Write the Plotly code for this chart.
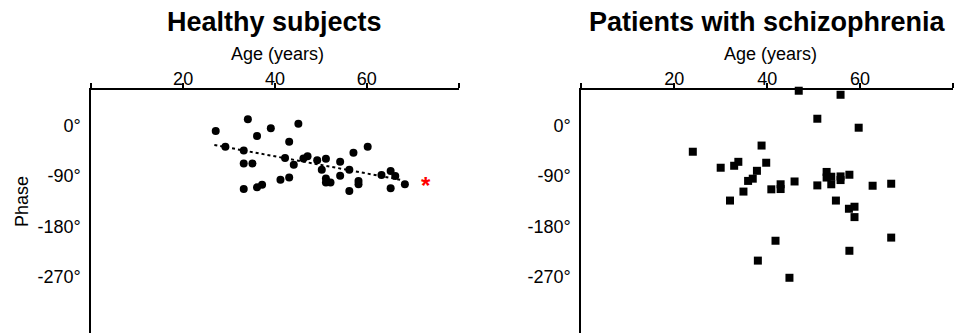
import plotly.graph_objects as go

# ---------------- data ----------------
healthy_age = [27.1, 34.1, 29.2, 36.1, 39.1, 45.1, 43.1, 33.2, 33.2, 35.1,
               42.2, 44.1, 46.2, 47.1, 49.2, 51.1, 50.2, 54.2, 57.1, 60.2,
               56.2, 54.2, 51.1, 51.1, 52.1, 58.2, 58.2, 56.2, 41.2, 43.1,
               33.2, 36.1, 37.2, 63.2, 65.2, 66.2, 65.2, 68.3]
healthy_phase = [-10, 11, -38, -19, -5, 3, -29, -45, -68, -68,
                 -58, -70, -59, -55, -62, -59.5, -79, -65, -49, -38,
                 -79, -90, -94.5, -102, -102, -99, -105, -117, -97, -93,
                 -113.5, -110.5, -106, -88.6, -81.5, -90.4, -112, -105]

trend_age = [26.8, 67.7]
trend_phase = [-35, -97.5]

sig_age = [72.8]
sig_phase = [-100]

patient_age = [46.8, 55.8, 50.8, 59.7, 38.8, 24.0, 30.0, 32.9, 33.8, 39.8,
               37.8, 36.9, 35.9, 34.9, 32.0, 40.9, 42.9, 42.9, 45.9, 50.8,
               52.8, 52.8, 53.8, 53.8, 55.8, 55.8, 57.7, 54.8, 57.6, 58.8,
               58.8, 62.7, 66.7, 66.7, 41.8, 57.7, 38.0, 44.8]
patient_phase = [61.7, 54.5, 11.8, -4.2, -36, -47, -75.5, -72, -65, -66.6,
                 -81, -95, -99, -118, -134, -114, -105, -113.5, -100, -107,
                 -83, -93, -91.5, -105, -97.5, -91, -88, -134, -148.6, -145,
                 -163.5, -107.6, -104, -200, -205.6, -223.5, -241, -271.6]

x_tickvals = [0, 20, 40, 60, 80]
x_ticktext = ["", "20", "40", "60", ""]
y_tickvals = [0, -90, -180, -270]
y_ticktext = ["0°", "-90°", "-180°", "-270°"]

titles = ["Healthy subjects", "Patients with schizophrenia"]
x_title = "Age (years)"
y_title = "Phase"

# ---------------- figure ----------------
FONT = "Arial, Liberation Sans, sans-serif"
W, H = 962, 333
T = 90

fig = go.Figure()

fig.add_trace(go.Scatter(
    x=trend_age, y=trend_phase, mode="lines",
    line=dict(color="black", width=2, dash="dot"),
    xaxis="x", yaxis="y", showlegend=False, hoverinfo="skip"))
fig.add_trace(go.Scatter(
    x=healthy_age, y=healthy_phase, mode="markers",
    marker=dict(symbol="circle", size=8, color="black"),
    xaxis="x", yaxis="y", showlegend=False, cliponaxis=False))
fig.add_trace(go.Scatter(
    x=patient_age, y=patient_phase, mode="markers",
    marker=dict(symbol="square", size=8, color="black"),
    xaxis="x2", yaxis="y2", showlegend=False, cliponaxis=False))

xdom1 = [91.3 / W, 458.6 / W]
xdom2 = [581.3 / W, 953.0 / W]

common_x = dict(range=[0, 80], side="top", showline=True, linecolor="black",
                linewidth=2, ticks="outside", ticklen=5, tickwidth=2,
                tickcolor="black", tickvals=x_tickvals, ticktext=x_ticktext,
                showgrid=False, zeroline=False, automargin=False,
                ticklabelstandoff=-9,
                tickfont=dict(family=FONT, size=18, color="black"))
common_y = dict(range=[-370, 63], showline=True, linecolor="black",
                linewidth=2, ticks="", tickvals=y_tickvals,
                ticktext=y_ticktext, showgrid=False, zeroline=False,
                ticklabelstandoff=5, automargin=False,
                tickfont=dict(family=FONT, size=18, color="black"))

fig.update_layout(
    width=W, height=H,
    margin=dict(l=0, r=0, t=T, b=0, autoexpand=False),
    paper_bgcolor="white", plot_bgcolor="white",
    xaxis=dict(domain=xdom1, anchor="y", **common_x),
    yaxis=dict(domain=[0, 1], anchor="x", **common_y),
    xaxis2=dict(domain=xdom2, anchor="y2", **common_x),
    yaxis2=dict(domain=[0, 1], anchor="x2", **common_y),
)

def py(pix):
    return (H - pix) / (H - T)

ann = []
for dom, title in zip([xdom1, xdom2], titles):
    cx = (dom[0] + dom[1]) / 2
    ann.append(dict(x=cx, y=py(22), xref="paper", yref="paper",
                    text="<b>" + title + "</b>", showarrow=False,
                    xanchor="center", yanchor="middle",
                    font=dict(family=FONT, size=27, color="black")))
    ann.append(dict(x=cx + 3 / W, y=py(54), xref="paper", yref="paper",
                    text=x_title, showarrow=False,
                    xanchor="center", yanchor="middle",
                    font=dict(family=FONT, size=18, color="black")))
ann.append(dict(x=22 / W, y=py(202), xref="paper", yref="paper",
                text=y_title, textangle=-90, showarrow=False,
                xanchor="center", yanchor="middle",
                font=dict(family=FONT, size=18, color="black")))
ann.append(dict(x=sig_age[0], y=sig_phase[0], xref="x", yref="y",
                text="<b>*</b>", showarrow=False, xanchor="center",
                yanchor="middle", yshift=-4,
                font=dict(family=FONT, size=24, color="red")))
fig.update_layout(annotations=ann)

fig.write_html("out.html",
               config={"displayModeBar": False, "staticPlot": True},
               post_script="document.body.style.margin='0';"
                           "document.body.style.overflow='hidden';")
